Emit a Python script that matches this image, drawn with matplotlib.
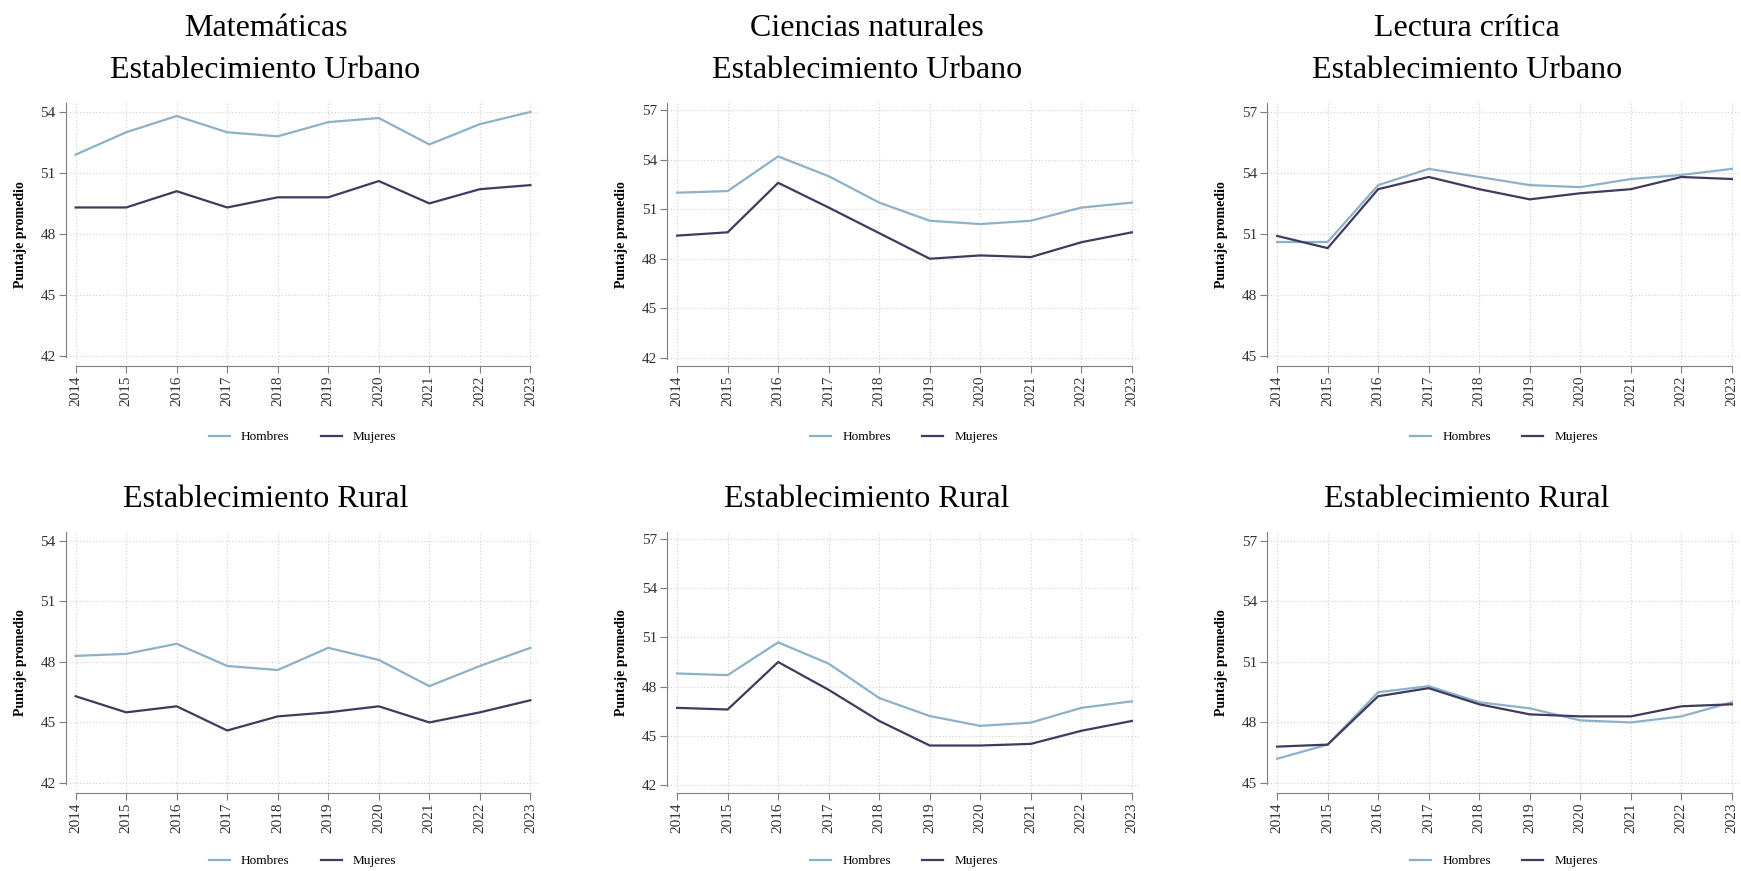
import matplotlib
matplotlib.use("Agg")
import matplotlib.pyplot as plt

plt.rcParams["font.family"] = ["Liberation Serif", "DejaVu Serif"]

years = [2014, 2015, 2016, 2017, 2018, 2019, 2020, 2021, 2022, 2023]

# Matematicas
mat_urb_h = [51.9, 53.0, 53.8, 53.0, 52.8, 53.5, 53.7, 52.4, 53.4, 54.0]
mat_urb_m = [49.3, 49.3, 50.1, 49.3, 49.8, 49.8, 50.6, 49.5, 50.2, 50.4]
mat_rur_h = [48.3, 48.4, 48.9, 47.8, 47.6, 48.7, 48.1, 46.8, 47.8, 48.7]
mat_rur_m = [46.3, 45.5, 45.8, 44.6, 45.3, 45.5, 45.8, 45.0, 45.5, 46.1]

# Ciencias naturales
cie_urb_h = [52.0, 52.1, 54.2, 53.0, 51.4, 50.3, 50.1, 50.3, 51.1, 51.4]
cie_urb_m = [49.4, 49.6, 52.6, 51.1, 49.55, 48.0, 48.2, 48.1, 49.0, 49.6]
cie_rur_h = [48.8, 48.7, 50.7, 49.4, 47.3, 46.2, 45.6, 45.8, 46.7, 47.1]
cie_rur_m = [46.7, 46.6, 49.5, 47.8, 45.9, 44.4, 44.4, 44.5, 45.3, 45.9]

# Lectura critica
lec_urb_h = [50.6, 50.6, 53.4, 54.2, 53.8, 53.4, 53.3, 53.7, 53.9, 54.2]
lec_urb_m = [50.9, 50.3, 53.2, 53.8, 53.2, 52.7, 53.0, 53.2, 53.8, 53.7]
lec_rur_h = [46.2, 46.9, 49.5, 49.8, 49.0, 48.7, 48.1, 48.0, 48.3, 49.0]
lec_rur_m = [46.8, 46.9, 49.3, 49.7, 48.9, 48.4, 48.3, 48.3, 48.8, 48.9]

subjects = ["Matemáticas", "Ciencias naturales", "Lectura crítica"]
yticks_all = [[42, 45, 48, 51, 54], [42, 45, 48, 51, 54, 57], [45, 48, 51, 54, 57]]
ydata = [
    [(mat_urb_h, mat_urb_m), (mat_rur_h, mat_rur_m)],
    [(cie_urb_h, cie_urb_m), (cie_rur_h, cie_rur_m)],
    [(lec_urb_h, lec_urb_m), (lec_rur_h, lec_rur_m)],
]

c_h = "#8cb1c8"
c_m = "#3e3b5e"
gray = "#7f7f7f"

W, H = 1741, 871
fig = plt.figure(figsize=(W / 100, H / 100), dpi=100)

lefts = [65.5, 667, 1267]
width = 474
rows = [(102.6, 366), (531.7, 793)]  # top, bottom in px

for col in range(3):
    for row in range(2):
        top, bot = rows[row]
        ax = fig.add_axes([lefts[col] / W, 1 - bot / H, width / W, (bot - top) / H])
        h, m = ydata[col][row]
        ax.plot(years, h, color=c_h, lw=1.6, label="Hombres")
        ax.plot(years, m, color=c_m, lw=1.6, label="Mujeres")

        yt = yticks_all[col]
        ax.set_xlim(2014 - 0.2, 2023 + 0.18)
        ax.set_ylim(yt[0] - 0.5, yt[-1] + 0.46)
        ax.set_xticks(years)
        ax.set_xticklabels([str(y) for y in years], rotation=90, fontsize=11)
        ax.set_yticks(yt)
        ax.set_yticklabels([str(v) for v in yt], fontsize=11)

        for s in ["top", "right"]:
            ax.spines[s].set_visible(False)
        ax.spines["left"].set_color(gray)
        ax.spines["bottom"].set_color(gray)
        ax.spines["left"].set_bounds(yt[0] - 0.06, yt[-1] + 0.46)
        ax.spines["bottom"].set_bounds(2014, 2023)
        ax.tick_params(colors="#333333", length=5, width=0.8, color=gray, pad=2)
        ax.grid(True, linestyle=":", color="#d6d6d6", lw=0.9)
        ax.set_axisbelow(True)

        ax.set_ylabel("Puntaje promedio", fontsize=10, fontweight="bold")
        ax.yaxis.set_label_coords(-0.082, 0.5)

        leg_y = 437 if row == 0 else 861
        ax.legend(loc="center", bbox_to_anchor=(0.5, 1 - (leg_y - top) / (bot - top)),
                  ncol=2, frameon=False, fontsize=9.5, handlelength=1.6,
                  columnspacing=2.35, handletextpad=0.85)

        cx = (lefts[col] + width / 2 - 37) / W
        if row == 0:
            fig.text(cx, 1 - 28 / H, subjects[col], ha="center", va="center", fontsize=23)
            fig.text(cx, 1 - 71 / H, "Establecimiento Urbano", ha="center", va="center", fontsize=23)
        else:
            fig.text(cx, 1 - 499 / H, "Establecimiento Rural", ha="center", va="center", fontsize=23)

fig.savefig("out.png", dpi=100, facecolor="white")
